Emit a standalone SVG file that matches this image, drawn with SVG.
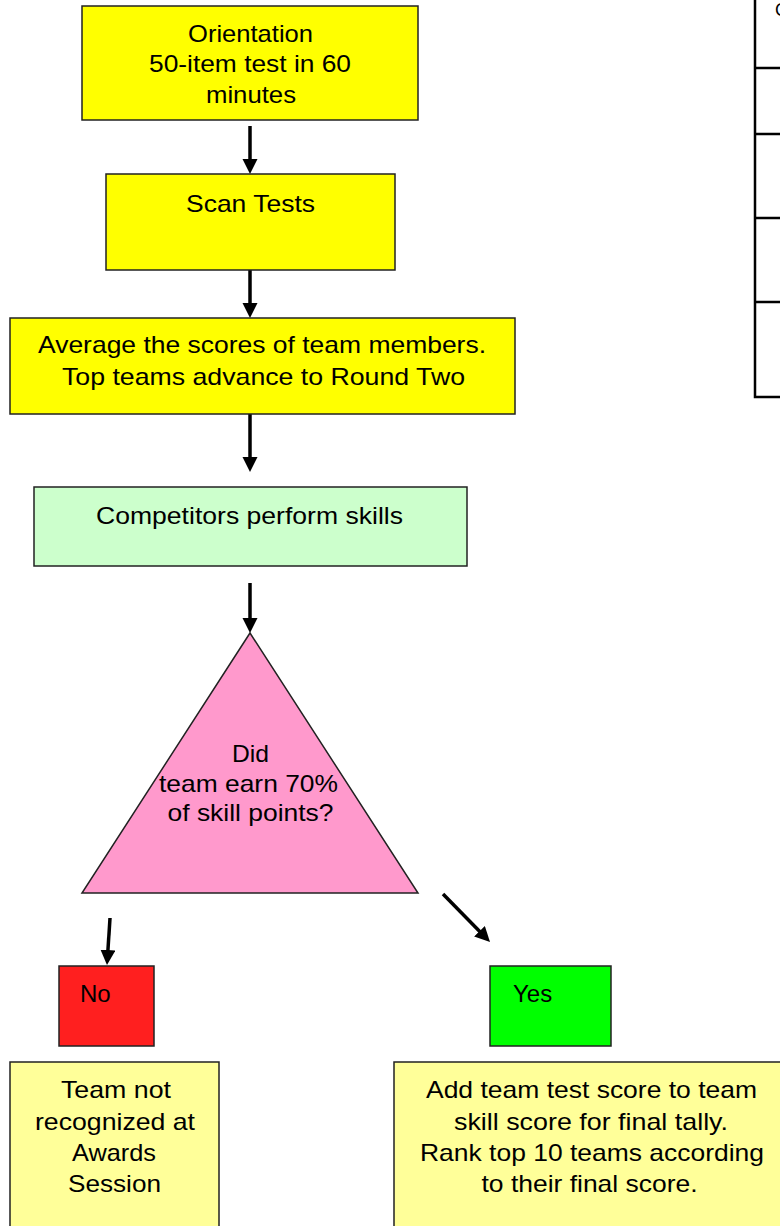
<svg xmlns="http://www.w3.org/2000/svg" width="780" height="1226" viewBox="0 0 780 1226">
<style>
.box{stroke:#222;stroke-width:1.5}
.t{font-family:"Liberation Sans",Arial,sans-serif;font-size:24px;fill:#000}
.c{text-anchor:middle}
.arr{stroke:#000;stroke-width:3.5;fill:none;marker-end:url(#ah)}
.tbl{stroke:#000;stroke-width:2.5;fill:none}
</style>
<defs>
<marker id="ah" markerUnits="userSpaceOnUse" markerWidth="16" markerHeight="16" refX="7" refY="7.5" orient="auto">
<path d="M0,0 L15,7.5 L0,15 z" fill="#000"/>
</marker>
</defs>
<rect width="780" height="1226" fill="#fff"/>

<g id="table">
<path class="tbl" d="M755,0 V397 H782 M755,68 H782 M755,134 H782 M755,218 H782 M755,302 H782"/>
<text class="t" x="775" y="16" style="font-size:18px">C</text>
</g>

<g id="connectors">
<line class="arr" x1="250" y1="126" x2="250" y2="166"/>
<line class="arr" x1="250" y1="270" x2="250" y2="310"/>
<line class="arr" x1="250" y1="414" x2="250" y2="464"/>
<line class="arr" x1="250" y1="583" x2="250" y2="625"/>
<line class="arr" x1="110" y1="918" x2="107.5" y2="957"/>
<line class="arr" x1="443" y1="894" x2="484.4" y2="936.3"/>
</g>

<g id="orientation">
<rect class="box" x="82" y="6" width="336" height="114" fill="#FFFF00"/>
<text class="t c" x="250.5" y="42" textLength="125" lengthAdjust="spacingAndGlyphs">Orientation</text>
<text class="t c" x="250" y="72" textLength="202" lengthAdjust="spacingAndGlyphs">50-item test in 60</text>
<text class="t c" x="251" y="103" textLength="90" lengthAdjust="spacingAndGlyphs">minutes</text>
</g>

<g id="scan">
<rect class="box" x="106" y="174" width="289" height="96" fill="#FFFF00"/>
<text class="t c" x="250.5" y="212" textLength="129" lengthAdjust="spacingAndGlyphs">Scan Tests</text>
</g>

<g id="average">
<rect class="box" x="10" y="318" width="505" height="96" fill="#FFFF00"/>
<text class="t c" x="262" y="353" textLength="448" lengthAdjust="spacingAndGlyphs">Average the scores of team members.</text>
<text class="t c" x="263.5" y="385" textLength="403" lengthAdjust="spacingAndGlyphs">Top teams advance to Round Two</text>
</g>

<g id="skills">
<rect class="box" x="34" y="487" width="433" height="79" fill="#CCFFCC"/>
<text class="t c" x="249.5" y="524" textLength="307" lengthAdjust="spacingAndGlyphs">Competitors perform skills</text>
</g>

<g id="decision">
<polygon class="box" points="250,633 418,893 82,893" fill="#FF99CC"/>
<text class="t c" x="250.5" y="762" textLength="37" lengthAdjust="spacingAndGlyphs">Did</text>
<text class="t c" x="248.5" y="792" textLength="179" lengthAdjust="spacingAndGlyphs">team earn 70%</text>
<text class="t c" x="250.5" y="821" textLength="166" lengthAdjust="spacingAndGlyphs">of skill points?</text>
</g>

<g id="no">
<rect class="box" x="59" y="966" width="95" height="80" fill="#FF1F1F"/>
<text class="t" x="80" y="1002">No</text>
</g>

<g id="yes">
<rect class="box" x="490" y="966" width="121" height="80" fill="#00FF00"/>
<text class="t" x="513" y="1002">Yes</text>
</g>

<g id="not-recognized">
<rect class="box" x="10" y="1062" width="209" height="180" fill="#FFFF99"/>
<text class="t c" x="116" y="1098" textLength="110" lengthAdjust="spacingAndGlyphs">Team not</text>
<text class="t c" x="115" y="1130" textLength="160" lengthAdjust="spacingAndGlyphs">recognized at</text>
<text class="t c" x="114" y="1161" textLength="84" lengthAdjust="spacingAndGlyphs">Awards</text>
<text class="t c" x="114.5" y="1192" textLength="93" lengthAdjust="spacingAndGlyphs">Session</text>
</g>

<g id="final-tally">
<rect class="box" x="394" y="1062" width="396" height="180" fill="#FFFF99"/>
<text class="t c" x="591.5" y="1098" textLength="331" lengthAdjust="spacingAndGlyphs">Add team test score to team</text>
<text class="t c" x="591" y="1130" textLength="274" lengthAdjust="spacingAndGlyphs">skill score for final tally.</text>
<text class="t c" x="592" y="1161" textLength="344" lengthAdjust="spacingAndGlyphs">Rank top 10 teams according</text>
<text class="t c" x="589.5" y="1192" textLength="216" lengthAdjust="spacingAndGlyphs">to their final score.</text>
</g>
</svg>
